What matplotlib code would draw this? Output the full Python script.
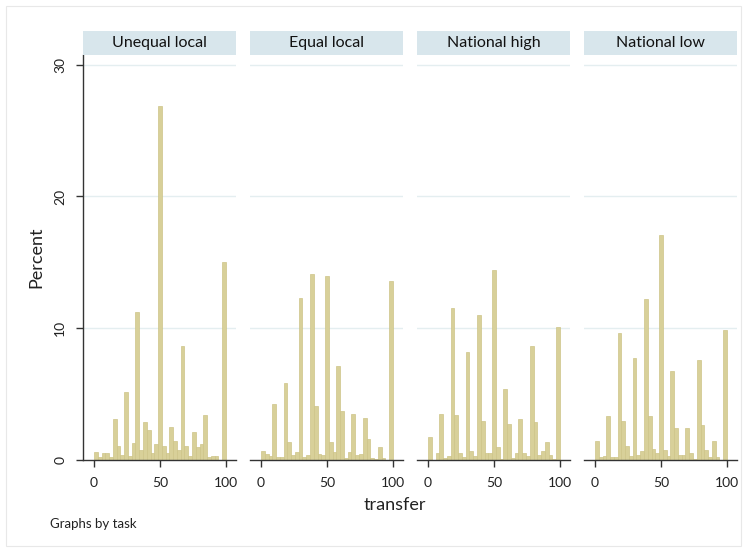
import numpy as np
import matplotlib
matplotlib.use("Agg")
import matplotlib.pyplot as plt
from matplotlib.patches import Rectangle

plt.rcParams['font.family'] = ['Lato', 'DejaVu Sans']

# Histogram of transfer (percent of observations per bin), 35 bins over 0-100
bin_edges = np.linspace(0, 100, 36)

tasks = ["Unequal local", "Equal local", "National high", "National low"]

unequal_local = [0.6, 0.18, 0.5, 0.5, 0.18, 3.05, 1.05, 0.37, 5.15, 0.3,
                 1.29, 11.2, 0.72, 2.84, 2.27, 0.47, 1.15, 26.9, 1.05, 0.5,
                 2.48, 1.39, 0.71, 8.65, 1.05, 0.3, 2.07, 0.94, 1.18, 3.41,
                 0.18, 0.26, 0.26, 0.0, 15.0]
equal_local = [0.68, 0.46, 0.25, 4.23, 0.23, 0.23, 5.85, 1.34, 0.33, 0.56,
               12.3, 0.23, 0.33, 14.1, 4.05, 0.46, 0.33, 13.95, 1.34, 0.56,
               7.15, 3.67, 0.13, 0.56, 3.47, 0.33, 0.46, 3.13, 1.6, 0.13,
               0.05, 0.93, 0.13, 0.0, 13.55]
national_high = [1.75, 0.0, 0.5, 3.5, 0.13, 0.3, 11.55, 3.42, 0.5, 0.18,
                 8.2, 0.63, 0.3, 10.97, 2.96, 0.5, 0.5, 14.4, 0.96, 0.05,
                 5.37, 2.73, 0.13, 0.5, 3.06, 0.5, 0.3, 8.65, 2.84, 0.38,
                 0.63, 1.37, 0.38, 0.05, 10.07]
national_low = [1.39, 0.18, 0.3, 3.29, 0.18, 0.18, 9.65, 2.96, 1.06, 0.3,
                7.75, 0.38, 0.63, 12.2, 3.29, 0.84, 0.5, 17.1, 0.71, 0.3,
                6.75, 2.4, 0.38, 0.38, 2.4, 0.5, 0.05, 7.55, 2.63, 0.71,
                0.18, 1.39, 0.18, 0.0, 9.85]
percents = [unequal_local, equal_local, national_high, national_low]

x_ticks = [0, 50, 100]
y_ticks = [0, 10, 20, 30]

BAR_FILL = "#d8d099"
BAR_EDGE = "#cdc488"
STRIP = "#d8e6ec"
GRID = "#e4eef0"
AXIS = "#333333"

W, H = 748, 552
fig = plt.figure(figsize=(W / 100, H / 100), dpi=100)
fig.patch.set_facecolor("white")

# thin outer frame of the graph region
fig.add_artist(Rectangle((6 / W, 6 / H), 735 / W, 540 / H, transform=fig.transFigure,
                         fill=False, edgecolor="#e8e8e8", linewidth=0.8))

lefts = [83, 250, 417, 584]
pw = 153
bottom_px, top_px = 460, 55

for i, (name, vals) in enumerate(zip(tasks, percents)):
    ax = fig.add_axes([lefts[i] / W, (H - bottom_px) / H, pw / W, (bottom_px - top_px) / H])
    widths = np.diff(bin_edges)
    ax.bar(bin_edges[:-1], vals, width=widths, align="edge",
           color=BAR_FILL, edgecolor=BAR_EDGE, linewidth=0.5, zorder=2)
    ax.set_xlim(-8.3, 107.6)
    ax.set_ylim(-0.03, 30.75)
    ax.set_yticks(y_ticks)
    ax.set_xticks(x_ticks)
    ax.set_xticklabels([str(t) for t in x_ticks], fontsize=10, color="#222222")
    for y in y_ticks[1:]:
        ax.axhline(y, color=GRID, linewidth=1.0, zorder=1)
    for s in ["top", "right"]:
        ax.spines[s].set_visible(False)
    ax.spines["bottom"].set_color(AXIS)
    ax.spines["bottom"].set_linewidth(1.0)
    ax.tick_params(axis="x", length=5, width=1.0, color=AXIS, pad=7)
    if i == 0:
        ax.spines["left"].set_color(AXIS)
        ax.spines["left"].set_linewidth(1.0)
        ax.set_yticklabels([str(t) for t in y_ticks], fontsize=10, color="#222222",
                           rotation=90, va="center")
        ax.tick_params(axis="y", length=5, width=1.0, color=AXIS, pad=7)
        ax.set_ylabel("Percent", fontsize=13, color="#222222", labelpad=7)
    else:
        ax.spines["left"].set_visible(False)
        ax.tick_params(axis="y", left=False, labelleft=False)
    ax.set_facecolor("white")

    # panel title strip
    fig.add_artist(Rectangle((lefts[i] / W, (H - 55) / H), pw / W, 24 / H,
                             transform=fig.transFigure, facecolor=STRIP,
                             edgecolor="none"))
    fig.text((lefts[i] + pw / 2) / W, (H - 43) / H, name, ha="center", va="center",
             fontsize=11.5, color="#111111")

fig.text(395 / W, (H - 505) / H, "transfer", ha="center", va="center",
         fontsize=13, color="#222222")
fig.text(50 / W, (H - 524) / H, "Graphs by task", ha="left", va="center",
         fontsize=9.5, color="#222222")

fig.savefig("out.png", dpi=100, facecolor="white")
